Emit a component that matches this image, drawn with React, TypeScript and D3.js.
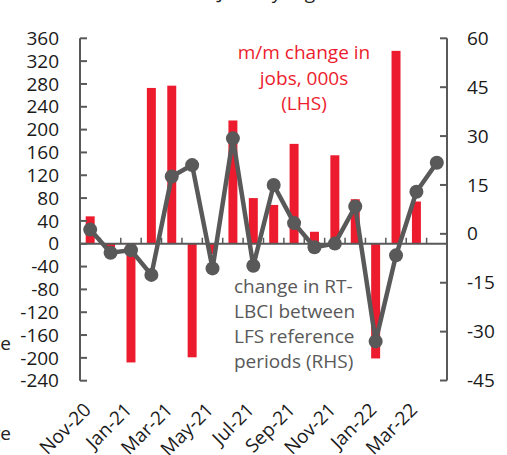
import React from "react";
import * as d3 from "d3";

const months = [
  "Nov-20", "Dec-20", "Jan-21", "Feb-21", "Mar-21", "Apr-21", "May-21", "Jun-21", "Jul-21",
  "Aug-21", "Sep-21", "Oct-21", "Nov-21", "Dec-21", "Jan-22", "Feb-22", "Mar-22", "Apr-22",
];
// m/m change in jobs, 000s (LHS)
const jobsChange: (number | null)[] = [
  48, -6, -208, 273, 277, -199, -18, 216, 80, 68, 175, 21, 155, 78, -201, 338, 74, null,
];
// change in RT-LBCI between LFS reference periods (RHS)
const lbciChange = [
  1.3, -5.8, -5.0, -12.6, 17.6, 21.1, -10.6, 29.3, -9.8, 15.0, 3.3, -4.1, -3.0, 8.4, -33, -6.6, 12.9, 21.8,
];
const leftTicks = [360, 320, 280, 240, 200, 160, 120, 80, 40, 0, -40, -80, -120, -160, -200, -240];
const rightTicks = [60, 45, 30, 15, 0, -15, -30, -45];
const xLabelMonths = ["Nov-20", "Jan-21", "Mar-21", "May-21", "Jul-21", "Sep-21", "Nov-21", "Jan-22", "Mar-22"];
const redLabel = ["m/m change in", "jobs, 000s", "(LHS)"];
const grayLabel = ["change in RT-", "LBCI between", "LFS reference", "periods (RHS)"];

const RED = "#EC1C2E";
const GRAY = "#595959";
const FONT = "'Open Sans', sans-serif";

export default function App() {
  const W = 507, H = 455;
  const left = 80, right = 447, top = 38.3, bottom = 380.7;
  const x = d3.scaleBand<string>().domain(months).range([left, right]).paddingInner(0.56).paddingOuter(0.28);
  const yL = d3.scaleLinear().domain([-240, 360]).range([bottom, top]);
  const yR = d3.scaleLinear().domain([-45, 60]).range([380.5, top]);
  const step = x.step();
  const cx = (m: string) => (x(m) as number) + x.bandwidth() / 2;

  const line = d3.line<number>()
    .x((_, i) => cx(months[i]))
    .y((v) => yR(v));

  return (
    <svg width={W} height={H} style={{ position: "absolute", left: 0, top: 0, fontFamily: FONT }}>
      <rect width={W} height={H} fill="#fff" />
      {/* cropped title and side texts */}
      <text x={218} y={-1} fontSize={19} fill="#222">Jobs by region</text>
      <text x={11} y={350} fontSize={19} fill="#222" textAnchor="end">rate</text>
      <text x={11} y={440} fontSize={19} fill="#222" textAnchor="end">change</text>

      {/* bars */}
      {months.map((m, i) => {
        const v = jobsChange[i];
        if (v === null) return null;
        const y0 = yL(0), y1 = yL(v);
        return (
          <rect key={m} x={x(m)} width={x.bandwidth()} y={Math.min(y0, y1)} height={Math.abs(y1 - y0)} fill={RED} />
        );
      })}

      {/* zero / category axis */}
      <line x1={left} x2={right} y1={yL(0)} y2={yL(0)} stroke={GRAY} strokeWidth={2} />
      {months.slice(1).map((m) => {
        const bx = cx(m) - step / 2;
        return <line key={m} x1={bx} x2={bx} y1={yL(0)} y2={yL(0) - 6} stroke={GRAY} strokeWidth={1.5} />;
      })}

      {/* left axis */}
      <line x1={left} x2={left} y1={top} y2={bottom} stroke={GRAY} strokeWidth={2} />
      {leftTicks.map((t) => (
        <g key={t}>
          <line x1={left} x2={left + 7} y1={yL(t)} y2={yL(t)} stroke={GRAY} strokeWidth={2} />
          <text x={59} y={yL(t)} dy="0.35em" fontSize={19} textAnchor="end" fill="#1a1a1a">{t}</text>
        </g>
      ))}

      {/* right axis */}
      <line x1={right} x2={right} y1={top} y2={380.5} stroke={GRAY} strokeWidth={2} />
      {rightTicks.map((t) => (
        <g key={t}>
          <line x1={right - 7} x2={right} y1={yR(t)} y2={yR(t)} stroke={GRAY} strokeWidth={2} />
          <text x={467} y={yR(t)} dy="0.35em" fontSize={19} textAnchor="start" fill="#1a1a1a">{t}</text>
        </g>
      ))}

      {/* line series */}
      <path d={line(lbciChange) || ""} fill="none" stroke={GRAY} strokeWidth={4.5} strokeLinejoin="round" />
      {lbciChange.map((v, i) => (
        <circle key={i} cx={cx(months[i])} cy={yR(v)} r={7} fill={GRAY} />
      ))}

      {/* x labels */}
      {xLabelMonths.map((m) => {
        const ax = cx(m) + 2, ay = 411;
        return (
          <text key={m} x={ax} y={ay} fontSize={19} textAnchor="end" fill="#1a1a1a" transform={`rotate(-45 ${ax} ${ay})`}>{m}</text>
        );
      })}

      {/* annotations */}
      {redLabel.map((s, i) => (
        <text key={s} x={304} y={59 + i * 25.5} fontSize={19} textAnchor="middle" fill={RED}>{s}</text>
      ))}
      {grayLabel.map((s, i) => (
        <text key={s} x={234} y={293 + i * 25} fontSize={19} textAnchor="start" fill={GRAY}>{s}</text>
      ))}
    </svg>
  );
}
